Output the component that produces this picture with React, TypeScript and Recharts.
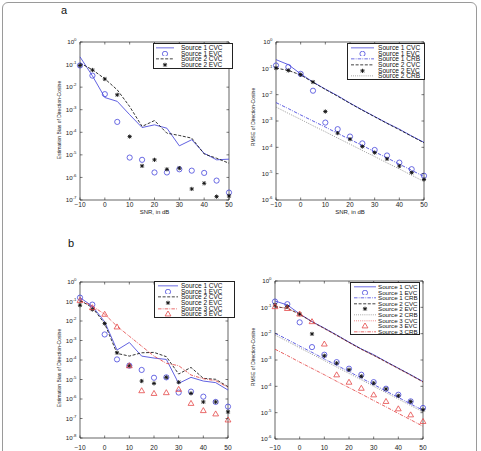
import React from 'react';
import { LineChart, Line, XAxis, YAxis, ReferenceArea } from 'recharts';

const snr = [-10, -5, 0, 5, 10, 15, 20, 25, 30, 35, 40, 45, 50];
const xTicks = [-10, 0, 10, 20, 30, 40, 50];
const yTicks6 = [1e-6, 1e-5, 1e-4, 1e-3, 1e-2, 1e-1, 1];
const yTicks7 = [1e-7, 1e-6, 1e-5, 1e-4, 1e-3, 1e-2, 1e-1, 1];
const yTicks8 = [1e-8, 1e-7, 1e-6, 1e-5, 1e-4, 1e-3, 1e-2, 1e-1, 1];

// all readings are log10 of the plotted value
// (a) bias
const aBiasS1Cvc = [-0.66, -1.5, -2.46, -2.63, -3.22, -3.79, -3.67, -3.82, -4.6, -4.33, -4.93, -5.22, -5.19];
const aBiasS1Evc = [-1.04, -1.49, -2.31, -3.54, -5.12, -5.22, -5.78, -5.78, -5.64, -5.7, -5.8, -6.14, -6.67];
const aBiasS2Cvc = [-0.93, -1.23, -1.63, -2.12, -2.86, -3.74, -3.48, -4.04, -4.14, -4.26, -4.96, -5.15, -5.37];
const aBiasS2Evc = [-1.04, -1.24, -1.64, -2.34, -4.19, -5.49, -5.22, -5.64, -5.59, -6.51, -6.26, -6.85, -6.82];

// (a) rmse
const aRmseS1Cvc = [-0.67, -0.86, -1.21, -1.52, -1.79, -2.04, -2.32, -2.58, -2.83, -3.08, -3.31, -3.57, -3.81];
const aRmseS1Evc = [-0.89, -0.95, -1.21, -1.85, -3.06, -3.31, -3.59, -3.85, -4.1, -4.31, -4.58, -4.83, -5.08];
const aRmseS1Crb = [-2.3, -2.53, -2.77, -3.0, -3.23, -3.47, -3.7, -3.93, -4.17, -4.4, -4.64, -4.87, -5.11];
const aRmseS2Cvc = [-0.99, -1.08, -1.25, -1.53, -1.8, -2.06, -2.33, -2.59, -2.84, -3.09, -3.33, -3.58, -3.83];
const aRmseS2Evc = [-0.99, -1.08, -1.24, -1.52, -2.64, -3.46, -3.69, -3.97, -4.2, -4.44, -4.71, -4.96, -5.22];
const aRmseS2Crb = [-2.47, -2.71, -2.94, -3.18, -3.41, -3.65, -3.88, -4.12, -4.35, -4.59, -4.82, -5.06, -5.3];

// (b) bias
const bBiasS1Cvc = [-0.8, -1.24, -2.04, -3.49, -3.1, -3.8, -3.9, -3.97, -5.2, -4.89, -5.08, -5.16, -5.54];
const bBiasS1Evc = [-0.8, -1.16, -2.69, -3.97, -4.29, -4.51, -4.91, -4.89, -5.67, -5.62, -5.88, -6.15, -6.39];
const bBiasS2Cvc = [-0.94, -1.31, -2.13, -3.66, -3.8, -3.63, -3.61, -3.83, -4.72, -4.38, -4.94, -4.99, -5.37];
const bBiasS2Evc = [-1.19, -1.41, -2.13, -3.63, -4.29, -5.08, -5.2, -4.89, -5.14, -5.71, -6.15, -6.15, -6.66];
const bBiasS3Cvc = [-0.94, -1.24, -1.65, -2.27, -2.78, -3.29, -3.8, -4.17, -4.29, -4.77, -4.96, -5.06, -5.4];
const bBiasS3Evc = [-0.94, -1.31, -1.65, -2.3, -4.29, -5.57, -5.71, -5.67, -5.5, -6.22, -6.59, -6.76, -7.07];

// (b) rmse
const bRmseS1Cvc = [-0.76, -0.91, -1.25, -1.54, -1.79, -2.05, -2.32, -2.58, -2.8, -3.06, -3.31, -3.56, -3.82];
const bRmseS1Evc = [-0.78, -0.88, -1.57, -2.51, -2.8, -3.08, -3.33, -3.56, -3.84, -4.09, -4.32, -4.57, -4.82];
const bRmseS1Crb = [-1.98, -2.22, -2.47, -2.71, -2.96, -3.2, -3.44, -3.69, -3.93, -4.18, -4.42, -4.67, -4.91];
const bRmseS2Cvc = [-0.97, -1.04, -1.26, -1.55, -1.8, -2.06, -2.33, -2.59, -2.82, -3.07, -3.32, -3.57, -3.83];
const bRmseS2Evc = [-0.91, -0.97, -1.26, -2.01, -2.84, -3.12, -3.37, -3.62, -3.88, -4.1, -4.36, -4.58, -4.89];
const bRmseS2Crb = [-2.05, -2.29, -2.54, -2.78, -3.02, -3.27, -3.51, -3.75, -4.0, -4.24, -4.48, -4.73, -4.97];
const bRmseS3Cvc = [-0.97, -1.04, -1.26, -1.55, -1.81, -2.07, -2.34, -2.6, -2.83, -3.08, -3.33, -3.58, -3.84];
const bRmseS3Evc = [-0.97, -1.04, -1.25, -1.54, -2.39, -3.56, -3.84, -4.07, -4.32, -4.57, -4.85, -5.08, -5.33];
const bRmseS3Crb = [-2.59, -2.83, -3.08, -3.32, -3.56, -3.81, -4.05, -4.29, -4.54, -4.78, -5.03, -5.27, -5.52];

const BLUE = '#4646dc';
const RED = '#e44848';
const BLACK = '#111';
const GRAY = '#777';
const FONT = '"Liberation Sans", Arial, Helvetica, sans-serif';

const SOLID = undefined;
const DASHED = '3 1.6';
const DASHDOT = '3.5 1.2 0.8 1.2';
const DOTTED = '0.8 1.3';

type MarkerKind = 'circle' | 'star' | 'triangle';
type Series = {
  key: string;
  name: string;
  vals: number[];
  color: string;
  dash?: string;
  line?: boolean;
  marker?: MarkerKind;
};

function Marker({ kind, cx, cy, color }: { kind: MarkerKind; cx: number; cy: number; color: string }) {
  if (kind === 'circle') {
    return <circle cx={cx} cy={cy} r={2.6} fill="none" stroke={color} strokeWidth={0.8} />;
  }
  if (kind === 'triangle') {
    return (
      <polygon
        points={`${cx},${cy - 2.9} ${cx - 2.9},${cy + 2.1} ${cx + 2.9},${cy + 2.1}`}
        fill="none"
        stroke={color}
        strokeWidth={0.8}
      />
    );
  }
  const r = 2.1;
  return (
    <g stroke={color} strokeWidth={0.9}>
      <line x1={cx - r} y1={cy} x2={cx + r} y2={cy} />
      <line x1={cx} y1={cy - r} x2={cx} y2={cy + r} />
      <line x1={cx - r * 0.75} y1={cy - r * 0.75} x2={cx + r * 0.75} y2={cy + r * 0.75} />
      <line x1={cx - r * 0.75} y1={cy + r * 0.75} x2={cx + r * 0.75} y2={cy - r * 0.75} />
    </g>
  );
}

type Box = { l: number; t: number; r: number; b: number };

type LegendCfg = { left: number; top: number; width: number; rowH: number; fontSize: number; s0: number; s1: number; textX: number };

function LegendBox({ cfg, series }: { cfg: LegendCfg; series: Series[] }) {
  return (
    <div
      style={{
        position: 'absolute',
        left: cfg.left,
        top: cfg.top,
        width: cfg.width,
        height: series.length * cfg.rowH + 3,
        background: '#fff',
        border: '0.7px solid #222',
        boxSizing: 'border-box',
        paddingTop: 1,
        fontFamily: FONT,
        fontSize: cfg.fontSize,
        color: '#111',
      }}
    >
      {series.map((s) => (
        <div key={s.key} style={{ position: 'relative', height: cfg.rowH }}>
          <svg width={cfg.s1 + 2} height={cfg.rowH} style={{ position: 'absolute', left: 0, top: 0 }}>
            {s.line && (
              <line
                x1={cfg.s0}
                x2={cfg.s1}
                y1={cfg.rowH / 2}
                y2={cfg.rowH / 2}
                stroke={s.color}
                strokeWidth={0.8}
                strokeDasharray={s.dash}
              />
            )}
            {s.marker && <Marker kind={s.marker} cx={(cfg.s0 + cfg.s1) / 2} cy={cfg.rowH / 2} color={s.color} />}
          </svg>
          <span
            style={{
              position: 'absolute',
              left: cfg.textX,
              top: 0,
              lineHeight: `${cfg.rowH}px`,
              whiteSpace: 'nowrap',
            }}
          >
            {s.name}
          </span>
        </div>
      ))}
    </div>
  );
}

type PanelProps = {
  series: Series[];
  box: Box;
  yTicks: number[];
  yLabel: string;
  yLabelX: number;
  yLabelY: number;
  tickDy: number;
  titleDy: number;
  legend: LegendCfg;
};

function Panel({ series, box, yTicks, yLabel, yLabelX, yLabelY, tickDy, titleDy, legend }: PanelProps) {
  const rows = snr.map((s, i) => {
    const row: Record<string, number> = { snr: s };
    series.forEach((se) => {
      row[se.key] = Math.pow(10, se.vals[i]);
    });
    return row;
  });
  const yMin = yTicks[0];

  const xTick = (p: any) => {
    const x = p.x;
    const v = p.payload.value;
    return (
      <g>
        <line x1={x} x2={x} y1={box.b} y2={box.b - 2.5} stroke="#222" strokeWidth={0.6} />
        <line x1={x} x2={x} y1={box.t} y2={box.t + 2.5} stroke="#222" strokeWidth={0.6} />
        <text x={x} y={box.b + tickDy} textAnchor="middle" fontSize={6.6} fontFamily={FONT} fill="#222">
          {v < 0 ? `\u2212${Math.abs(v)}` : `${v}`}
        </text>
      </g>
    );
  };

  const yTick = (p: any) => {
    const y = p.y;
    const e = Math.round(Math.log10(p.payload.value));
    return (
      <g>
        <line x1={box.l} x2={box.l + 2.5} y1={y} y2={y} stroke="#222" strokeWidth={0.6} />
        <line x1={box.r - 2.5} x2={box.r} y1={y} y2={y} stroke="#222" strokeWidth={0.6} />
        <text x={box.l - 3.5} y={y + 2.3} textAnchor="end" fontSize={6.2} fontFamily={FONT} fill="#222">
          10
          <tspan dy={-3} fontSize={4.3}>
            {e}
          </tspan>
        </text>
      </g>
    );
  };

  return (
    <>
      <div style={{ position: 'absolute', left: 0, top: 0 }}>
        <LineChart
          width={481}
          height={451}
          data={rows}
          margin={{ top: box.t, left: box.l - 40, right: 481 - box.r, bottom: 451 - box.b - 10 }}
        >
          <XAxis
            dataKey="snr"
            type="number"
            domain={[-10, 50]}
            ticks={xTicks}
            interval={0}
            height={10}
            axisLine={false}
            tickLine={false}
            tick={xTick}
            label={() => (
              <text
                x={(box.l + box.r) / 2}
                y={box.b + titleDy}
                textAnchor="middle"
                fontSize={6}
                fontFamily={FONT}
                fill="#222"
              >
                SNR, in dB
              </text>
            )}
          />
          <YAxis
            scale="log"
            domain={[yMin, 1]}
            ticks={yTicks}
            interval={0}
            width={40}
            axisLine={false}
            tickLine={false}
            tick={yTick}
            label={() => (
              <text
                x={yLabelX}
                y={yLabelY}
                textAnchor="middle"
                fontSize={5}
                fontFamily={FONT}
                fill="#222"
                transform={`rotate(-90 ${yLabelX} ${yLabelY})`}
              >
                {yLabel}
              </text>
            )}
          />
          <ReferenceArea x1={-10} x2={50} y1={yMin} y2={1} fill="none" stroke="#222" strokeWidth={0.7} ifOverflow="visible" />
          {series
            .filter((s) => s.line)
            .map((s) => (
              <Line
                key={`${s.key}-l`}
                type="linear"
                dataKey={s.key}
                stroke={s.color}
                strokeWidth={0.85}
                strokeDasharray={s.dash}
                dot={false}
                activeDot={false}
                isAnimationActive={false}
              />
            ))}
          {series
            .filter((s) => s.marker)
            .map((s) => (
              <Line
                key={`${s.key}-m`}
                type="linear"
                dataKey={s.key}
                stroke="none"
                activeDot={false}
                isAnimationActive={false}
                dot={(p: any) => (
                  <Marker key={`${s.key}-${p.index}`} kind={s.marker as MarkerKind} cx={p.cx} cy={p.cy} color={s.color} />
                )}
              />
            ))}
        </LineChart>
      </div>
      <LegendBox cfg={legend} series={series} />
    </>
  );
}

const aBiasSeries: Series[] = [
  { key: 's1c', name: 'Source 1 CVC', vals: aBiasS1Cvc, color: BLUE, dash: SOLID, line: true },
  { key: 's1e', name: 'Source 1 EVC', vals: aBiasS1Evc, color: BLUE, marker: 'circle' },
  { key: 's2c', name: 'Source 2 CVC', vals: aBiasS2Cvc, color: BLACK, dash: DASHED, line: true },
  { key: 's2e', name: 'Source 2 EVC', vals: aBiasS2Evc, color: BLACK, marker: 'star' },
];

const aRmseSeries: Series[] = [
  { key: 's1c', name: 'Source 1 CVC', vals: aRmseS1Cvc, color: BLUE, dash: SOLID, line: true },
  { key: 's1e', name: 'Source 1 EVC', vals: aRmseS1Evc, color: BLUE, marker: 'circle' },
  { key: 's1b', name: 'Source 1 CRB', vals: aRmseS1Crb, color: BLUE, dash: DASHDOT, line: true },
  { key: 's2c', name: 'Source 2 CVC', vals: aRmseS2Cvc, color: BLACK, dash: DASHED, line: true },
  { key: 's2e', name: 'Source 2 EVC', vals: aRmseS2Evc, color: BLACK, marker: 'star' },
  { key: 's2b', name: 'Source 2 CRB', vals: aRmseS2Crb, color: GRAY, dash: DOTTED, line: true },
];

const bBiasSeries: Series[] = [
  { key: 's1c', name: 'Source 1 CVC', vals: bBiasS1Cvc, color: BLUE, dash: SOLID, line: true },
  { key: 's1e', name: 'Source 1 EVC', vals: bBiasS1Evc, color: BLUE, marker: 'circle' },
  { key: 's2c', name: 'Source 2 CVC', vals: bBiasS2Cvc, color: BLACK, dash: DASHED, line: true },
  { key: 's2e', name: 'Source 2 EVC', vals: bBiasS2Evc, color: BLACK, marker: 'star' },
  { key: 's3c', name: 'Source 3 CVC', vals: bBiasS3Cvc, color: RED, dash: DASHDOT, line: true },
  { key: 's3e', name: 'Source 3 EVC', vals: bBiasS3Evc, color: RED, marker: 'triangle' },
];

const bRmseSeries: Series[] = [
  { key: 's1c', name: 'Source 1 CVC', vals: bRmseS1Cvc, color: BLUE, dash: SOLID, line: true },
  { key: 's1e', name: 'Source 1 EVC', vals: bRmseS1Evc, color: BLUE, marker: 'circle' },
  { key: 's1b', name: 'Source 1 CRB', vals: bRmseS1Crb, color: BLUE, dash: DASHDOT, line: true },
  { key: 's2c', name: 'Source 2 CVC', vals: bRmseS2Cvc, color: BLACK, dash: DASHED, line: true },
  { key: 's2e', name: 'Source 2 EVC', vals: bRmseS2Evc, color: BLACK, marker: 'star' },
  { key: 's2b', name: 'Source 2 CRB', vals: bRmseS2Crb, color: GRAY, dash: DOTTED, line: true },
  { key: 's3c', name: 'Source 3 CVC', vals: bRmseS3Cvc, color: RED, dash: DOTTED, line: true },
  { key: 's3e', name: 'Source 3 EVC', vals: bRmseS3Evc, color: RED, marker: 'triangle' },
  { key: 's3b', name: 'Source 3 CRB', vals: bRmseS3Crb, color: RED, dash: DASHDOT, line: true },
];

export default function App() {
  return (
    <div
      style={{
        position: 'absolute',
        left: 0,
        top: 0,
        width: 481,
        height: 451,
        overflow: 'hidden',
        background: '#fff',
        fontFamily: FONT,
      }}
    >
      <div
        style={{
          position: 'absolute',
          left: 2,
          top: 2,
          width: 475,
          height: 470,
          border: '1px solid #9a9a9a',
          borderRadius: 6,
          boxSizing: 'border-box',
        }}
      />
      <span style={{ position: 'absolute', left: 61, top: 3, fontSize: 11, lineHeight: '14px', color: '#111' }}>a</span>
      <span style={{ position: 'absolute', left: 68, top: 236, fontSize: 11, lineHeight: '14px', color: '#111' }}>b</span>

      <Panel
        series={aBiasSeries}
        box={{ l: 80, t: 42, r: 229, b: 200 }}
        yTicks={yTicks7}
        yLabel="Estimation Bias of Direction-Cosine"
        yLabelX={61}
        yLabelY={120}
        tickDy={6.5}
        titleDy={13.5}
        legend={{ left: 153, top: 43, width: 80, rowH: 5.7, fontSize: 6.5, s0: 2, s1: 20, textX: 27 }}
      />
      <Panel
        series={aRmseSeries}
        box={{ l: 276, t: 42, r: 424, b: 200 }}
        yTicks={yTicks6}
        yLabel="RMSE of Direction-Cosine"
        yLabelX={255}
        yLabelY={117}
        tickDy={6.5}
        titleDy={13.5}
        legend={{ left: 347, top: 43, width: 78, rowH: 5.7, fontSize: 6.6, s0: 3, s1: 26, textX: 30 }}
      />
      <Panel
        series={bBiasSeries}
        box={{ l: 80, t: 282, r: 228, b: 438 }}
        yTicks={yTicks8}
        yLabel="Estimation Bias of Direction-Cosine"
        yLabelX={61}
        yLabelY={368}
        tickDy={11.5}
        titleDy={18}
        legend={{ left: 154, top: 281, width: 81, rowH: 5.7, fontSize: 6.5, s0: 3, s1: 23, textX: 26 }}
      />
      <Panel
        series={bRmseSeries}
        box={{ l: 275, t: 281, r: 423, b: 439 }}
        yTicks={yTicks6}
        yLabel="RMSE of Direction-Cosine"
        yLabelX={255}
        yLabelY={357}
        tickDy={11}
        titleDy={17.5}
        legend={{ left: 350, top: 282, width: 70, rowH: 5.6, fontSize: 6.2, s0: 3, s1: 25, textX: 27 }}
      />
    </div>
  );
}
